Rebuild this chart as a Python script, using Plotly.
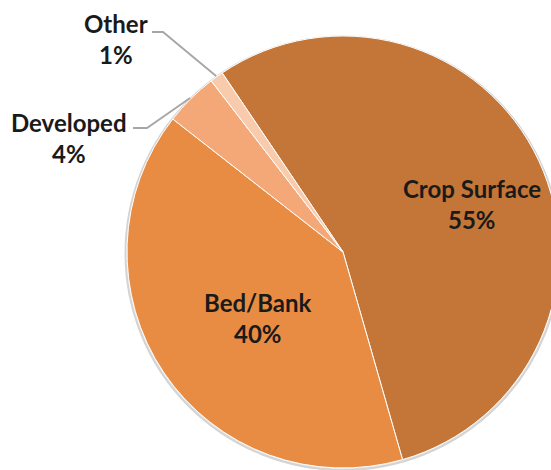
import math
import plotly.graph_objects as go

# Sediment source shares (%)
categories = ["Crop Surface", "Bed/Bank", "Developed", "Other"]
shares = [55, 40, 4, 1]
slice_colors = ["#C47638", "#E98C43", "#F4A877", "#F8CBAD"]

# Canvas and pie geometry (pixels)
W, H = 600, 520
CX, CY, R = 343, 252, 216
START = -34  # first slice starts this many degrees clockwise from 12 o'clock

FONT = "Lato"
FONT_SIZE = 24
TEXT_COLOR = "#1a1a1a"
LEADER_COLOR = "#A6A6A6"


def to_paper(x, y):
    return x / W, 1 - y / H


def polar(angle_deg, radius):
    a = math.radians(angle_deg)
    return CX + radius * math.sin(a), CY - radius * math.cos(a)


# mid-angle of each slice, derived from the data
total = sum(shares)
mid_angles = []
acc = START
for v in shares:
    span = 360.0 * v / total
    mid_angles.append(acc + span / 2)
    acc += span

x0, y0 = to_paper(CX - R, CY + R)
x1, y1 = to_paper(CX + R, CY - R)

fig = go.Figure(
    go.Pie(
        labels=categories,
        values=shares,
        sort=False,
        direction="clockwise",
        rotation=START,
        marker=dict(colors=slice_colors, line=dict(color="white", width=1)),
        textinfo="none",
        hoverinfo="label+percent",
        domain=dict(x=[x0, x1], y=[y0, y1]),
        showlegend=False,
    )
)

annotations = []
shapes = []

# soft edge around the pie
sx0, sy0 = to_paper(CX - R - 1.5, CY + R + 2)
sx1, sy1 = to_paper(CX + R + 1.5, CY - R + 0.5)
shapes.append(
    dict(type="circle", xref="paper", yref="paper", layer="below",
         x0=sx0, y0=sy0, x1=sx1, y1=sy1,
         line=dict(color="#D4D4D4", width=2), fillcolor="#E6E6E6")
)


def add_label(name, pct, cx, cy, gap=31):
    for text, dy in ((name, -gap / 2), (f"{pct}%", gap / 2)):
        px, py = to_paper(cx, cy + dy)
        annotations.append(
            dict(
                x=px, y=py, xref="paper", yref="paper",
                text=f"<b>{text}</b>", showarrow=False,
                xanchor="center", yanchor="middle",
                font=dict(family=FONT, size=FONT_SIZE, color=TEXT_COLOR),
            )
        )


# label block centres (px)
label_pos = {
    "Crop Surface": (472, 204),
    "Bed/Bank": (258, 318),
    "Developed": (69, 138),
    "Other": (116, 39),
}
# leader line elbows for the small slices
leaders = {
    "Developed": dict(elbow=(147, 128), end=(133, 128)),
    "Other": dict(elbow=(163, 32), end=(152, 32)),
}

for name, pct, ang in zip(categories, shares, mid_angles):
    add_label(name, pct, *label_pos[name])
    if name in leaders:
        spec = leaders[name]
        pts = [polar(ang, R + 1), spec["elbow"], spec["end"]]
        pts = [to_paper(*p) for p in pts]
        path = "M {} {} L {} {} L {} {}".format(*[c for p in pts for c in p])
        shapes.append(
            dict(type="path", path=path, xref="paper", yref="paper",
                 line=dict(color=LEADER_COLOR, width=1.8))
        )

fig.update_layout(
    width=W,
    height=H,
    margin=dict(l=0, r=0, t=0, b=0),
    paper_bgcolor="white",
    plot_bgcolor="white",
    annotations=annotations,
    shapes=shapes,
)

fig.write_html(
    "out.html",
    post_script=(
        "document.documentElement.style.overflow='hidden';"
        "document.body.style.overflow='hidden';"
        "document.body.style.margin='0';"
    ),
)
